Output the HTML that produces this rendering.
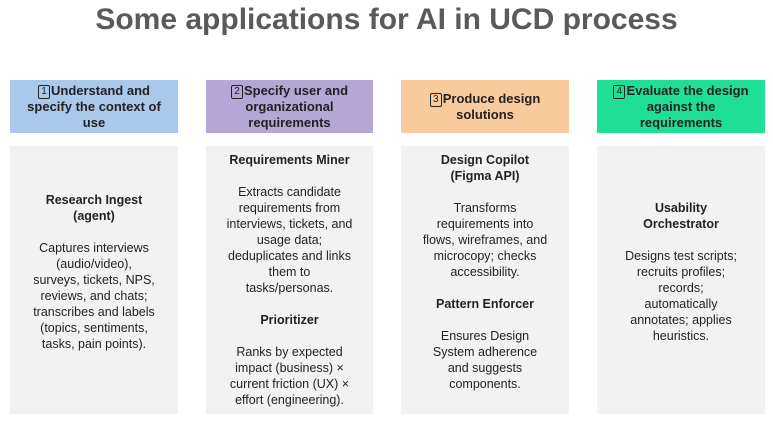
<!DOCTYPE html>
<html><head><meta charset="utf-8"><style>
body{margin:0;width:773px;height:424px;background:#fff;position:relative;overflow:hidden;font-family:"Liberation Sans",sans-serif;}
.t{position:absolute;left:0;width:773px;top:3px;text-align:center;font-size:30px;font-weight:bold;color:#5a5a5a;letter-spacing:0px}
.h{position:absolute;top:80px;height:53px;display:flex;align-items:center;justify-content:center;text-align:center;font-weight:bold;font-size:13px;line-height:16px;color:#222}
.b{position:absolute;top:146px;height:268px;background:#f2f2f2}
.x{position:absolute;text-align:center;font-size:12.5px;line-height:16px;color:#222}
.x b{font-weight:bold}
.n{display:inline-block;border:1.5px solid #222;border-radius:2px;width:10px;height:12px;line-height:12px;font-size:10px;font-weight:normal;vertical-align:1px;margin-right:1px}
</style></head><body>
<div class="t">Some applications for AI in UCD process</div>
<div class="h" style="left:10px;width:168px;background:#a9c8ea"><div><span class="n">1</span>Understand and<br>specify the context of<br>use</div></div>
<div class="h" style="left:206px;width:167px;background:#b4a7d6"><div><span class="n">2</span>Specify user and<br>organizational<br>requirements</div></div>
<div class="h" style="left:401px;width:168px;background:#f9cb9c"><div><span class="n">3</span>Produce design<br>solutions</div></div>
<div class="h" style="left:597px;width:168px;background:#1fdf96"><div><span class="n">4</span>Evaluate the design<br>against the<br>requirements</div></div>
<div class="b" style="left:10px;width:168px"></div>
<div class="b" style="left:206px;width:167px"></div>
<div class="b" style="left:401px;width:168px"></div>
<div class="b" style="left:597px;width:168px"></div>
<div class="x" style="left:10px;width:168px;top:192px"><b>Research Ingest<br>(agent)</b><br><br>Captures interviews<br>(audio/video),<br>surveys, tickets, NPS,<br>reviews, and chats;<br>transcribes and labels<br>(topics, sentiments,<br>tasks, pain points).</div>
<div class="x" style="left:206px;width:167px;top:152px"><b>Requirements Miner</b><br><br>Extracts candidate<br>requirements from<br>interviews, tickets, and<br>usage data;<br>deduplicates and links<br>them to<br>tasks/personas.<br><br><b>Prioritizer</b><br><br>Ranks by expected<br>impact (business) ×<br>current friction (UX) ×<br>effort (engineering).</div>
<div class="x" style="left:401px;width:168px;top:152px"><b>Design Copilot<br>(Figma API)</b><br><br>Transforms<br>requirements into<br>flows, wireframes, and<br>microcopy; checks<br>accessibility.<br><br><b>Pattern Enforcer</b><br><br>Ensures Design<br>System adherence<br>and suggests<br>components.</div>
<div class="x" style="left:597px;width:168px;top:200px"><b>Usability<br>Orchestrator</b><br><br>Designs test scripts;<br>recruits profiles;<br>records;<br>automatically<br>annotates; applies<br>heuristics.</div>
</body></html>
